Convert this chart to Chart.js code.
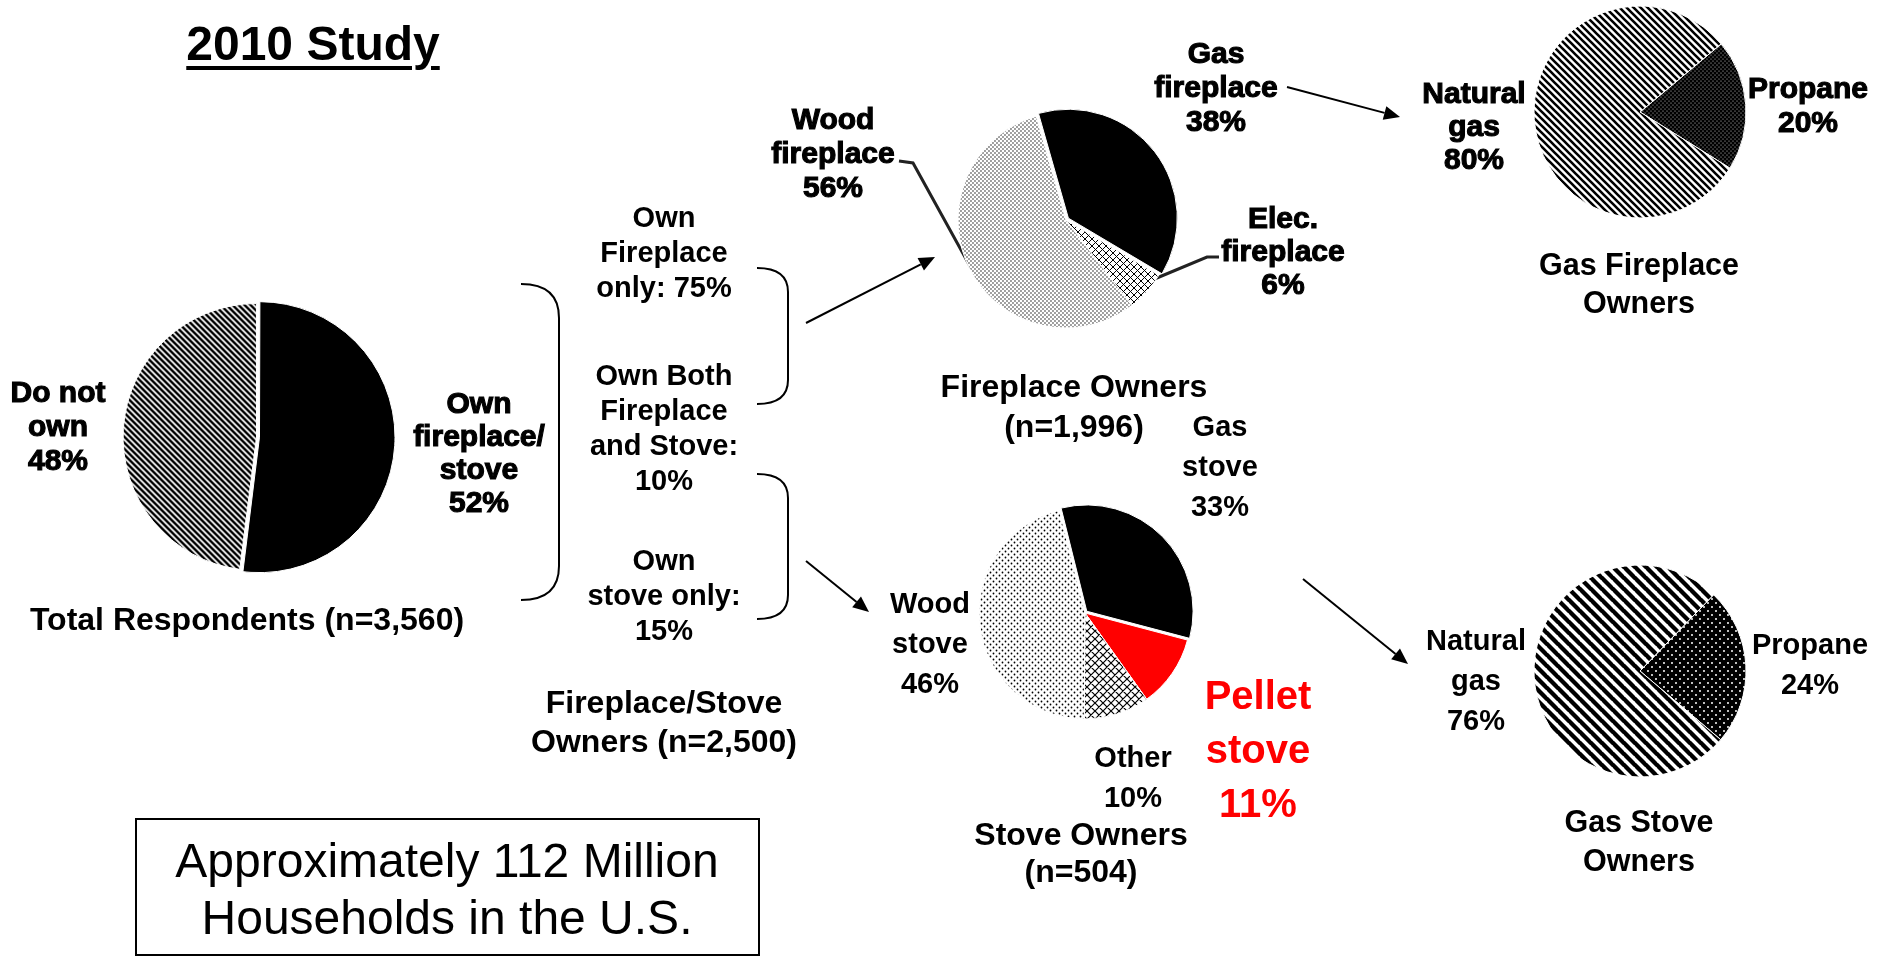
<!DOCTYPE html>
<html>
<head>
<meta charset="utf-8">
<script src="https://cdn.jsdelivr.net/npm/chart.js@4"></script>
<style>
  html, body { margin: 0; padding: 0; background: #fff; }
  #stage { position: relative; width: 1892px; height: 956px; overflow: hidden; font-family: 'Liberation Sans', Arial, sans-serif; }
  #lines { position: absolute; left: 0; top: 0; }
  canvas.pie { position: absolute; }
  .lbl { position: absolute; text-align: center; white-space: nowrap; font-weight: bold; color: #000; transform: translateX(-50%); }
  .heavy { -webkit-text-stroke: 1.1px #000; }
  #box { position: absolute; left: 135px; top: 818px; width: 625px; height: 138px; border: 2px solid #000; box-sizing: border-box; }
</style>
</head>
<body>
<div id="stage">
  <canvas id="lines" width="1892" height="956"></canvas>
  <div id="box"></div>
</div>
<script>
// --- data ---
const totalLabels = ['Own\nfireplace/\nstove', 'Do not\nown'];
const totalValues = [52, 48];

const ownerLabels = ['Own\nFireplace\nonly:', 'Own Both\nFireplace\nand Stove:', 'Own\nstove only:'];
const ownerValues = [75, 10, 15];

const fireplaceLabels = ['Gas\nfireplace', 'Elec.\nfireplace', 'Wood\nfireplace'];
const fireplaceValues = [38, 6, 56];

const gasFireplaceLabels = ['Propane', 'Natural\ngas'];
const gasFireplaceValues = [20, 80];

const stoveLabels = ['Gas\nstove', 'Pellet\nstove', 'Other', 'Wood\nstove'];
const stoveValues = [33, 11, 10, 46];

const gasStoveLabels = ['Propane', 'Natural\ngas'];
const gasStoveValues = [24, 76];

const stage = document.getElementById('stage');

// --- fill patterns ---
function tile(s, draw) {
    const c = document.createElement('canvas');
    c.width = s; c.height = s;
    const g = c.getContext('2d');
    draw(g, s);
    return g.createPattern(c, 'repeat');
}

function stripes(s, lw) {
    return tile(s, (g) => {
        g.fillStyle = '#fff'; g.fillRect(0, 0, s, s);
        g.strokeStyle = '#000'; g.lineWidth = lw;
        g.beginPath();
        for (const k of [-s, 0, s]) { g.moveTo(-1, -1 + k); g.lineTo(s + 1, s + 1 + k); }
        g.stroke();
    });
}

function hatch(s, lw) {
    return tile(s, (g) => {
        g.fillStyle = '#fff'; g.fillRect(0, 0, s, s);
        g.strokeStyle = '#000'; g.lineWidth = lw;
        g.beginPath();
        for (const k of [-s, 0, s]) {
            g.moveTo(-1, -1 + k); g.lineTo(s + 1, s + 1 + k);
            g.moveTo(-1, s + 1 + k); g.lineTo(s + 1, -1 + k);
        }
        g.stroke();
    });
}

function dots(s, r, fg, bg) {
    return tile(s, (g) => {
        g.fillStyle = bg; g.fillRect(0, 0, s, s);
        g.fillStyle = fg;
        g.beginPath();
        g.arc(s / 4, s / 4, r, 0, Math.PI * 2);
        g.arc(s * 3 / 4, s * 3 / 4, r, 0, Math.PI * 2);
        g.fill();
    });
}

// --- pies ---
function drawPie(cx, cy, r, values, colors, rotation, offsets) {
    const size = 2 * r + 40;
    const cv = document.createElement('canvas');
    cv.className = 'pie';
    cv.width = size; cv.height = size;
    cv.style.left = (cx - size / 2) + 'px';
    cv.style.top = (cy - size / 2) + 'px';
    stage.appendChild(cv);
    return new Chart(cv, {
        type: 'pie',
        data: {
            labels: values.map((v, i) => i),
            datasets: [{
                data: values,
                backgroundColor: colors,
                borderColor: '#fff',
                borderWidth: 1,
                offset: offsets,
                radius: r
            }]
        },
        options: {
            responsive: false,
            animation: false,
            devicePixelRatio: 1,
            rotation: rotation,
            events: [],
            layout: { padding: 0 },
            plugins: { legend: { display: false }, tooltip: { enabled: false } }
        }
    });
}

drawPie(257, 437, 133, totalValues, ['#000', stripes(6, 2.5)], 0, [10, 2]);
drawPie(1066, 220, 108, fireplaceValues, ['#000', hatch(7, 1), dots(4, 0.7, '#000', '#fff')], -16, [12, 0, 0]);
drawPie(1640, 112, 106, gasFireplaceValues, [dots(4, 0.5, '#fff', '#000'), stripes(7, 2.6)], 50, [0, 0]);
drawPie(1085, 613, 106, stoveValues, ['#000', '#ff0000', hatch(8, 1.2), dots(6, 0.9, '#000', '#fff')], -14, [10, 0, 0, 0]);
drawPie(1640, 671, 106, gasStoveValues, [dots(8, 1, '#fff', '#000'), stripes(11, 4.3)], 44, [0, 0]);

// --- brackets, arrows, leader lines ---
const g = document.getElementById('lines').getContext('2d');
g.strokeStyle = '#000';
g.fillStyle = '#000';
g.lineWidth = 2;

function bracket(x0, x1, top, bottom, bend) {
    g.beginPath();
    g.moveTo(x0, top);
    g.quadraticCurveTo(x1, top, x1, top + bend);
    g.lineTo(x1, bottom - bend);
    g.quadraticCurveTo(x1, bottom, x0, bottom);
    g.stroke();
}

function arrow(x1, y1, x2, y2) {
    const a = Math.atan2(y2 - y1, x2 - x1);
    const len = 16, half = 7;
    const bx = x2 - len * Math.cos(a), by = y2 - len * Math.sin(a);
    g.beginPath(); g.moveTo(x1, y1); g.lineTo(bx, by); g.stroke();
    g.beginPath();
    g.moveTo(x2, y2);
    g.lineTo(bx + half * Math.sin(a), by - half * Math.cos(a));
    g.lineTo(bx - half * Math.sin(a), by + half * Math.cos(a));
    g.closePath(); g.fill();
}

bracket(521, 559, 284, 600, 34);
bracket(757, 788, 268, 404, 24);
bracket(757, 788, 474, 619, 24);

arrow(806, 323, 935, 257);
arrow(806, 561, 869, 612);
arrow(1287, 87, 1400, 117);
arrow(1303, 579, 1408, 664);

g.lineWidth = 3;
g.strokeStyle = '#222';
g.beginPath(); g.moveTo(899, 161); g.lineTo(913, 163); g.lineTo(971, 268); g.stroke();
g.beginPath(); g.moveTo(1219, 257); g.lineTo(1207, 257); g.lineTo(1152, 280); g.stroke();

// --- text ---
function label(text, x, y, size, lh, opts = {}) {
    const d = document.createElement('div');
    d.className = 'lbl' + (opts.heavy ? ' heavy' : '');
    d.style.left = x + 'px';
    d.style.top = (y - lh / 2) + 'px';
    d.style.fontSize = size + 'px';
    d.style.lineHeight = lh + 'px';
    if (opts.color) d.style.color = opts.color;
    if (opts.normal) d.style.fontWeight = 'normal';
    if (opts.underline) {
        d.style.textDecoration = 'underline';
        d.style.textDecorationThickness = '4px';
        d.style.textUnderlineOffset = '6px';
    }
    d.innerHTML = text.split('\n').join('<br>');
    stage.appendChild(d);
}

const pct = v => v + '%';

label('2010 Study', 313, 44, 48, 52, { underline: true });

label(totalLabels[1] + '\n' + pct(totalValues[1]), 58, 392, 30, 34, { heavy: true });
label(totalLabels[0] + '\n' + pct(totalValues[0]), 479, 402, 30, 33, { heavy: true });
label('Total Respondents (n=3,560)', 247, 619, 32, 36);

label(ownerLabels[0] + ' ' + pct(ownerValues[0]), 664, 217, 29, 35);
label(ownerLabels[1] + '\n' + pct(ownerValues[1]), 664, 375, 29, 35);
label(ownerLabels[2] + '\n' + pct(ownerValues[2]), 664, 560, 29, 35);
label('Fireplace/Stove\nOwners (n=2,500)', 664, 702, 32, 39);

label(fireplaceLabels[2] + '\n' + pct(fireplaceValues[2]), 833, 119, 30, 34, { heavy: true });
label(fireplaceLabels[0] + '\n' + pct(fireplaceValues[0]), 1216, 53, 30, 34, { heavy: true });
label(fireplaceLabels[1] + '\n' + pct(fireplaceValues[1]), 1283, 217, 30, 33, { heavy: true });
label('Fireplace Owners\n(n=1,996)', 1074, 386, 32, 40);

label(gasFireplaceLabels[1] + '\n' + pct(gasFireplaceValues[1]), 1474, 92, 30, 33, { heavy: true });
label(gasFireplaceLabels[0] + '\n' + pct(gasFireplaceValues[0]), 1808, 88, 30, 34, { heavy: true });
label('Gas Fireplace\nOwners', 1639, 264, 30.5, 38);

label(stoveLabels[0] + '\n' + pct(stoveValues[0]), 1220, 426, 29, 40);
label(stoveLabels[3] + '\n' + pct(stoveValues[3]), 930, 603, 29, 40);
label(stoveLabels[2] + '\n' + pct(stoveValues[2]), 1133, 757, 29, 40);
label(stoveLabels[1] + '\n' + pct(stoveValues[1]), 1258, 695, 40, 54, { color: '#ff0000' });
label('Stove Owners\n(n=504)', 1081, 834, 32, 37);

label(gasStoveLabels[1] + '\n' + pct(gasStoveValues[1]), 1476, 640, 29, 40);
label(gasStoveLabels[0] + '\n' + pct(gasStoveValues[0]), 1810, 644, 29, 40);
label('Gas Stove\nOwners', 1639, 821, 30.5, 39);

label('Approximately 112 Million\nHouseholds in the U.S.', 447, 860, 48, 57, { normal: true });
</script>
</body>
</html>
